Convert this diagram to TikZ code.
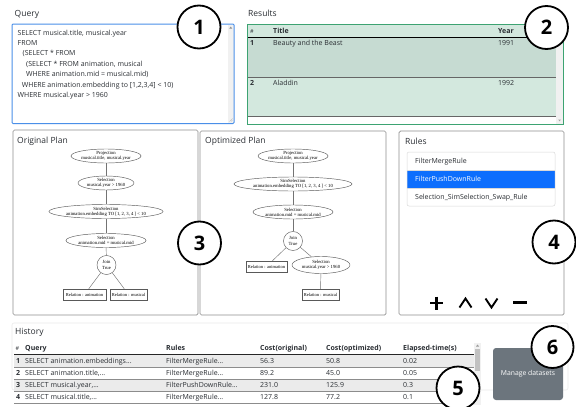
\documentclass[tikz,border=0pt]{standalone}
\usepackage{fontspec}
\setmainfont{Open Sans}
\newfontfamily\plfont{Liberation Serif}
\usetikzlibrary{shapes.geometric}
\definecolor{qblue}{HTML}{4A8FE8}
\definecolor{rgreen}{HTML}{3DA372}
\definecolor{tgreen}{HTML}{D3E8DE}
\definecolor{tgreendk}{HTML}{C6DBD2}
\definecolor{selblue}{HTML}{0D6EFD}
\definecolor{btngray}{HTML}{6C757D}
\definecolor{txt}{HTML}{2A2E33}
\definecolor{panelgray}{HTML}{8E8E8E}
\definecolor{scrollbg}{HTML}{F1F1F1}
\definecolor{scrollth}{HTML}{C1C1C1}
\definecolor{rowgray}{HTML}{EBEBEB}
\begin{document}
\begin{tikzpicture}[x=1pt,y=-1pt,
  lbl/.style={anchor=base west, inner sep=0pt, text=txt, font=\fontsize{8.5}{10}\selectfont},
  qt/.style={anchor=base west, inner sep=0pt, text=txt, font=\fontsize{7}{8}\selectfont},
  qb/.style={anchor=base west, inner sep=0pt, text=txt, font=\fontsize{7}{8}\selectfont\bfseries},
  num/.style={circle, draw=black, line width=1.8pt, fill=white, minimum size=43pt, inner sep=0pt, font=\fontsize{20}{20}\selectfont\bfseries},
  pn/.style={ellipse, draw=black!65, line width=0.45pt, inner sep=0pt, align=center, font=\plfont\fontsize{4.7}{5.1}\selectfont},
  pr/.style={rectangle, draw=black!65, line width=0.45pt, inner sep=0pt, minimum height=11pt, font=\plfont\fontsize{4.5}{5}\selectfont},
  pe/.style={draw=black!55, line width=0.45pt},
  panel/.style={draw=panelgray, line width=0.7pt, rounded corners=1.5pt},
  iconline/.style={draw=black, line width=2.4pt},
  rowline/.style={draw=black!45, line width=0.5pt}
]
\useasboundingbox (0,0) rectangle (576,407);
\fill[white] (0,0) rectangle (576,407);

% ---------- Query ----------
\node[lbl] (qlabel) at (14.5,16) {Query};
\fill[scrollbg] (228,24.5) rectangle (233.5,123);
\fill[black!45] (229.3,28.5) -- (232.2,28.5) -- (230.75,26.6) -- cycle;
\draw[black!35, line width=0.3pt] (229.5,121.5) -- (232.5,118.5) (231,121.5) -- (232.5,120);
\draw[qblue, line width=1pt, rounded corners=1pt] (12,24) rectangle (234,123.5);
\node[qt] (q1) at (17.5,35.5) {SELECT musical.title, musical.year};
\node[qt] (q2) at (17.5,45.5) {FROM};
\node[qt] (q3) at (22.5,55.5) {(SELECT * FROM};
\node[qt] (q4) at (26,66.5) {(SELECT * FROM animation, musical};
\node[qt] (q5) at (26,76.5) {WHERE animation.mid = musical.mid)};
\node[qt] (q6) at (21.7,87.5) {WHERE animation.embedding to [1,2,3,4] < 10)};
\node[qt] (q7) at (17.5,97.5) {WHERE musical.year > 1960};

% ---------- Results ----------
\node[lbl] (rlabel) at (248,16) {Results};
\fill[tgreen] (247.5,24.5) rectangle (556,116);
\fill[tgreendk] (247.5,37.5) rectangle (556,77);
\fill[scrollbg] (556,24.5) rectangle (563,123.5);
\fill[black!35] (558.2,119.5) -- (561,119.5) -- (559.6,121.3) -- cycle;
\draw[black, line width=0.8pt] (247.5,37.5) -- (556,37.5);
\draw[black!60, line width=0.6pt] (247.5,77) -- (556,77);
\draw[black!60, line width=0.6pt] (247.5,116) -- (556,116);
\draw[rgreen, line width=0.9pt] (247,24) rectangle (563.5,124);
\node[qt, font=\fontsize{5.5}{6}\selectfont] (rh0) at (250,33.5) {\#};
\node[qb] (rh1) at (273,33.5) {Title};
\node[qb] (rh2) at (498,33.5) {Year};
\node[qb] (r10) at (250,45.5) {1};
\node[qt] (r11) at (273,45.5) {Beauty and the Beast};
\node[qt] (r12) at (498,45.5) {1991};
\node[qb] (r20) at (250,85.5) {2};
\node[qt] (r21) at (273,85.5) {Aladdin};
\node[qt] (r22) at (498,85.5) {1992};

% ---------- Plan panels ----------
\draw[panel] (13,130) rectangle (198,315);
\draw[panel] (200,131) rectangle (386,315);
\node[lbl] (olabel) at (17,143) {Original Plan};
\node[lbl] (plabel) at (205,143) {Optimized Plan};

% original plan
\node[pn, minimum width=70pt, minimum height=14pt] (op) at (106,156) {Projection\\musical.title, musical.year};
\node[pn, minimum width=56pt, minimum height=14pt] (os) at (106,183) {Selection\\musical.year > 1960};
\node[pn, minimum width=114pt, minimum height=14pt] (oss) at (106,211.5) {SimSelection\\animation.embedding TO [1, 2, 3, 4 ] < 10};
\node[pn, minimum width=80pt, minimum height=14pt] (osm) at (106,240.5) {Selection\\animation.mid = musical.mid};
\node[pn, circle, minimum size=19pt] (oj) at (106.5,265) {Join\\True};
\node[pr, minimum width=43pt] (ora) at (84.5,294.5) {Relation : animation};
\node[pr, minimum width=37pt] (orm) at (128.5,294.5) {Relation : musical};
\draw[pe] (op) -- (os);
\draw[pe] (os) -- (oss);
\draw[pe] (oss) -- (osm);
\draw[pe] (osm) -- (oj);
\draw[pe] (oj) -- (ora);
\draw[pe] (oj) -- (orm);

% optimized plan
\node[pn, minimum width=70pt, minimum height=14pt] (pp) at (293,156) {Projection\\musical.title, musical.year};
\node[pn, minimum width=118pt, minimum height=14pt] (pss) at (293,184) {SimSelection\\animation.embedding TO [1, 2, 3, 4 ] < 10};
\node[pn, minimum width=80pt, minimum height=14pt] (psm) at (293,212) {Selection\\animation.mid = musical.mid};
\node[pn, circle, minimum size=19pt] (pj) at (293,241) {Join\\True};
\node[pr, minimum width=41pt] (pra) at (266.5,266.5) {Relation : animation};
\node[pn, minimum width=58pt, minimum height=17pt] (psy) at (321,265) {Selection\\musical.year > 1960};
\node[pr, minimum width=37pt] (prm) at (320.5,294.5) {Relation : musical};
\draw[pe] (pp) -- (pss);
\draw[pe] (pss) -- (psm);
\draw[pe] (psm) -- (pj);
\draw[pe] (pj) -- (pra);
\draw[pe] (pj) -- (psy);
\draw[pe] (psy) -- (prm);

% ---------- Rules ----------
\draw[panel] (399,131) rectangle (564,315);
\node[lbl] (rulelabel) at (405,144) {Rules};
\fill[selblue] (407,170) rectangle (555,188);
\draw[black!15, line width=0.5pt, rounded corners=2pt] (407,152) rectangle (555,206);
\draw[black!15, line width=0.5pt] (407,170) -- (555,170) (407,188) -- (555,188);
\node[qt] (rule1) at (415,163.5) {FilterMergeRule};
\node[qt, text=white] (rule2) at (415,181.5) {FilterPushDownRule};
\node[qt] (rule3) at (415,199.5) {Selection\_SimSelection\_Swap\_Rule};
% icons
\draw[iconline] (430,303) -- (443,303);
\draw[iconline] (436.5,296.5) -- (436.5,309.5);
\draw[draw=black, line width=1.9pt, line join=miter] (459.5,307.5) -- (465.5,298.5) -- (471.5,307.5);
\draw[draw=black, line width=1.9pt, line join=miter] (485.5,298.5) -- (491.5,307.5) -- (497.5,298.5);
\draw[draw=black, line width=3pt] (513,302.8) -- (527,302.8);

% ---------- History ----------
\draw[black!8, line width=0.6pt, rounded corners=2pt] (12,323) rectangle (568,390);
\node[lbl] (hlabel) at (15,334) {History};
\fill[rowgray] (14,354.5) rectangle (474,367);
\fill[rowgray] (14,379) rectangle (474,391);
\draw[black!85, line width=0.9pt] (14,354) -- (474,354);
\draw[rowline] (14,367) -- (474,367);
\draw[rowline] (14,379) -- (474,379);
\draw[rowline] (14,391) -- (474,391);
\draw[rowline] (14,403) -- (474,403);
\fill[scrollbg] (474,343) rectangle (481,405);
\fill[scrollth] (475,349) rectangle (480,371);
\fill[black!40] (476,346.5) -- (479,346.5) -- (477.5,344.5) -- cycle;

\node[qt, font=\fontsize{5.5}{6}\selectfont] (hh0) at (15.5,350.5) {\#};
\node[qb] (hh1) at (25,350.5) {Query};
\node[qb] (hh2) at (166,350.5) {Rules};
\node[qb] (hh3) at (260,350.5) {Cost(original)};
\node[qb] (hh4) at (326,350.5) {Cost(optimized)};
\node[qb] (hh5) at (403,350.5) {Elapsed-time(s)};

\node[qb] (h10) at (16,363) {1};
\node[qt] (h11) at (25,363) {SELECT animation.embeddings...};
\node[qt] (h12) at (166,363) {FilterMergeRule...};
\node[qt] (h13) at (260,363) {56.3};
\node[qt] (h14) at (326,363) {50.8};
\node[qt] (h15) at (403,363) {0.02};

\node[qb] (h20) at (16,375.5) {2};
\node[qt] (h21) at (25,375.5) {SELECT animation.title,...};
\node[qt] (h22) at (166,375.5) {FilterMergeRule...};
\node[qt] (h23) at (260,375.5) {89.2};
\node[qt] (h24) at (326,375.5) {45.0};
\node[qt] (h25) at (403,375.5) {0.05};

\node[qb] (h30) at (16,387.5) {3};
\node[qt] (h31) at (25,387.5) {SELECT musical.year,...};
\node[qt] (h32) at (166,387.5) {FilterPushDownRule...};
\node[qt] (h33) at (260,387.5) {231.0};
\node[qt] (h34) at (326,387.5) {125.9};
\node[qt] (h35) at (403,387.5) {0.3};

\node[qb] (h40) at (16,399.5) {4};
\node[qt] (h41) at (25,399.5) {SELECT musical.title,...};
\node[qt] (h42) at (166,399.5) {FilterMergeRule...};
\node[qt] (h43) at (260,399.5) {127.8};
\node[qt] (h44) at (326,399.5) {77.2};
\node[qt] (h45) at (403,399.5) {0.1};

% Manage datasets button
\node[rectangle, fill=btngray, rounded corners=3pt, minimum width=70pt, minimum height=52pt, inner sep=0pt, text=white, font=\fontsize{6.8}{8}\selectfont] (md) at (528,374) {Manage datasets};

% ---------- numbered circles ----------
\node[num] (c1) at (199,27) {1};
\node[num] (c2) at (546.5,27.5) {2};
\node[num] (c3) at (199.5,243) {3};
\node[num] (c4) at (554,242) {4};
\node[num] (c5) at (458,388) {5};
\node[num, minimum size=42pt] (c6) at (552.5,347) {6};
\end{tikzpicture}
\end{document}
